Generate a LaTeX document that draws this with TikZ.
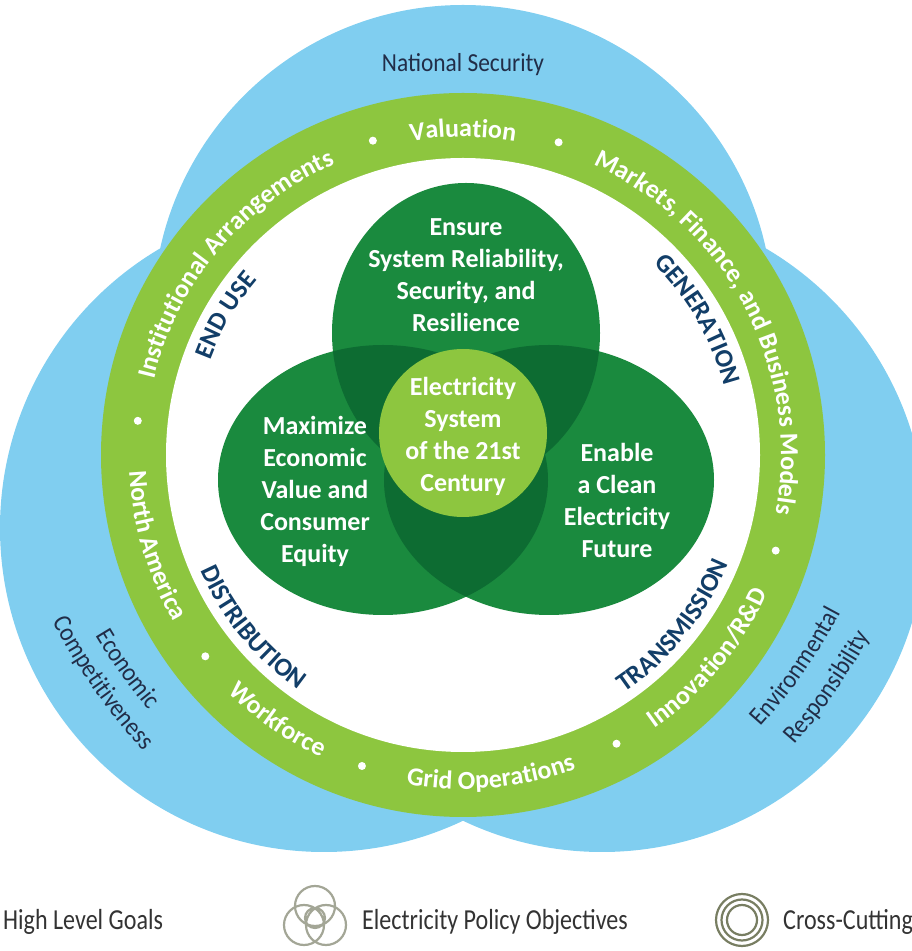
\documentclass[tikz,border=0pt]{standalone}
\usepackage{fontspec}
\setmainfont{Carlito}
\newfontfamily\slimfont[FakeStretch=0.9]{Carlito}
\newfontfamily\keyfont[FakeStretch=0.83]{Carlito}
\usetikzlibrary{calc}
\usetikzlibrary{decorations.text}
\definecolor{skyblue}{RGB}{128,206,240}
\definecolor{ringgreen}{RGB}{141,198,63}
\definecolor{goalgreen}{RGB}{26,138,62}
\definecolor{goaldark}{RGB}{13,108,50}
\definecolor{hubgreen}{RGB}{141,198,63}
\definecolor{navy}{RGB}{18,62,104}
\definecolor{inkblue}{RGB}{33,45,72}
\definecolor{iconlight}{RGB}{163,166,150}
\definecolor{icondark}{RGB}{120,126,98}
\newcommand\ringfnt{\fontsize{26}{26}\selectfont\bfseries}
\newcommand\goalfnt{\fontsize{26}{32}\selectfont\bfseries}
\newcommand\slimfnt{\slimfont\fontsize{26}{30}\selectfont}
\newcommand\keyfnt{\keyfont\fontsize{29}{30}\selectfont}
% text running clockwise / counter-clockwise round a centre
% #1 centre, #2 radius, #3 middle angle, #4 colour, #5 text
\newcommand\cwtext[5]{%
  \path[decorate,decoration={text along path,text align=center,text color=#4,text={#5}}]
    ($(#1)+(#3+75:#2)$) arc[start angle=#3+75,end angle=#3-75,radius=#2];}
\newcommand\ccwtext[5]{%
  \path[decorate,decoration={text along path,text align=center,text color=#4,text={#5}}]
    ($(#1)+(#3-75:#2)$) arc[start angle=#3-75,end angle=#3+75,radius=#2];}

\begin{document}
\begin{tikzpicture}[x=1pt,y=1pt]
\tikzstyle{goal}=[font=\goalfnt,text=white,align=center]
\tikzstyle{hub}=[font=\goalfnt,text=white,align=center]
\tikzstyle{bluelbl}=[font=\slimfnt,text=inkblue,align=center]
\tikzstyle{legend}=[font=\keyfnt,text=black!80,anchor=west,inner sep=0pt]
\tikzstyle{icon}=[line width=2.2pt]

\useasboundingbox (0,0) rectangle (912,951);
\clip (0,0) rectangle (912,951);
\coordinate (C) at (463,496);
\coordinate (Tb) at (463,636);
\coordinate (Lb) at (324,423);
\coordinate (Rb) at (602,423);
% flatter arcs for the two lower blue labels
\coordinate (Le) at (591,610);
\coordinate (Re) at (337,607);

%% high level goals
\fill[skyblue] (Tb) circle (310);
\fill[skyblue] (Lb) circle (324);
\fill[skyblue] (Rb) circle (324);

%% cross-cutting ring
\fill[ringgreen] (C) circle (362);
\fill[white] (C) circle (297);

%% policy objectives
\def\topgoal{(466,618) ellipse [x radius=134,y radius=150]}
\def\leftgoal{(383,471) ellipse [x radius=165,y radius=135]}
\def\rightgoal{(549,471) ellipse [x radius=165,y radius=135]}
\fill[goalgreen] \topgoal \leftgoal \rightgoal;
\begin{scope}
  \clip \topgoal;
  \fill[goaldark] \leftgoal \rightgoal;
\end{scope}
\begin{scope}
  \clip \leftgoal;
  \fill[goaldark] \rightgoal;
\end{scope}
\fill[hubgreen] (463,518) circle (84);

\node (reliab) [goal] at (466,676) {Ensure\\System Reliability,\\Security, and\\Resilience};
\node (econval) [goal] at (315,460) {Maximize\\Economic\\Value and\\Consumer\\Equity};
\node (clean) [goal] at (617,451) {Enable\\a Clean\\Electricity\\Future};
\node (hubtxt) [hub] at (463,515) {Electricity\\System\\of the 21st\\Century};

%% ring labels
\cwtext{C}{318}{140}{white}{|\ringfnt|Institutional Arrangements}
\cwtext{C}{318}{90}{white}{|\ringfnt|Valuation}
\cwtext{C}{318}{27.6}{white}{|\ringfnt|Markets, Finance, and Business Models}
\ccwtext{C}{334}{-39.7}{white}{|\ringfnt|Innovation/R{\&}D}
\ccwtext{C}{334}{-85}{white}{|\ringfnt|Grid Operations}
\ccwtext{C}{334}{-125}{white}{|\ringfnt|Workforce}
\ccwtext{C}{334}{-163.6}{white}{|\ringfnt|North America}
\foreach \a in {106,73,-17,-62,-108,-142,174}
  \fill[white] ($(C)+(\a:327)$) circle (4);

%% sectors
\cwtext{C}{270}{149.5}{navy}{|\ringfnt|END USE}
\cwtext{C}{270}{30}{navy}{|\ringfnt|GENERATION}
\ccwtext{C}{287}{-39}{navy}{|\ringfnt|TRANSMISSION}
\ccwtext{C}{287}{-140.6}{navy}{|\ringfnt|DISTRIBUTION}

%% goals in the blue circles
\node (natsec) [bluelbl] at (463,886) {National Security};
\ccwtext{Le}{576}{-144.7}{inkblue}{|\slimfnt|Economic}
\ccwtext{Le}{607}{-145}{inkblue}{|\slimfnt|Competitiveness}
\ccwtext{Re}{571}{-35.1}{inkblue}{|\slimfnt|Environmental}
\ccwtext{Re}{608}{-35}{inkblue}{|\slimfnt|Responsibility}

%% legend
\node (lgoals) [legend] at (3,29) {High Level Goals};
\draw[icon,iconlight] (315,45) circle (20) (304,26) circle (20) (326,26) circle (20) (315,33) circle (10);
\node (lobj) [legend] at (362,29) {Electricity Policy Objectives};
\draw[icon,icondark] (742,31) circle (26) (742,31) circle (20.5) (742,31) circle (15);
\node (lcross) [legend] at (783,29) {Cross-Cutting};
\end{tikzpicture}
\end{document}
